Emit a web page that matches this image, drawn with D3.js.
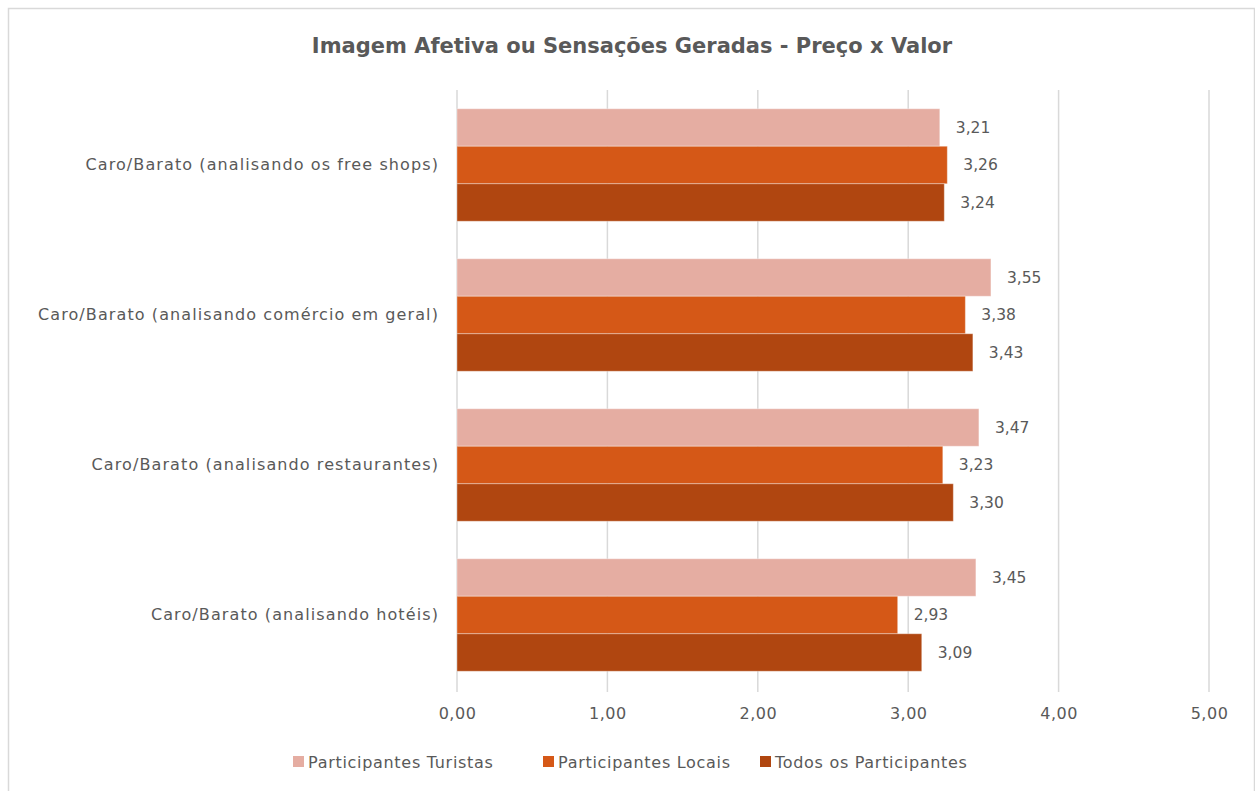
<!DOCTYPE html>
<html>
<head>
<meta charset="utf-8">
<script src="https://cdn.jsdelivr.net/npm/d3@7"></script>
<style>
  html, body { margin: 0; padding: 0; background: #fff; }
  svg { display: block; }
  text { font-family: "Century Gothic", "DejaVu Sans", sans-serif; fill: #595959; }
</style>
</head>
<body>
<script>
// Categories (top to bottom) and series values
const categories = [
  "Caro/Barato (analisando os free shops)",
  "Caro/Barato (analisando comércio em geral)",
  "Caro/Barato (analisando restaurantes)",
  "Caro/Barato (analisando hotéis)"
];
const seriesNames = ["Participantes Turistas", "Participantes Locais", "Todos os Participantes"];
const turistas = [3.21, 3.55, 3.47, 3.45];
const locais   = [3.26, 3.38, 3.23, 2.93];
const todos    = [3.24, 3.43, 3.30, 3.09];
const tickValues = [0, 1, 2, 3, 4, 5];
const colors = ["#e5ada2", "#d55817", "#b04610"];

const title = "Imagem Afetiva ou Sensações Geradas - Preço x Valor";
const W = 1255, H = 791;
const plot = { left: 457, right: 1209, top: 90, bottom: 690 };
const FONT = "\"Century Gothic\", \"DejaVu Sans\", sans-serif";

const svg = d3.select("body").append("svg").attr("width", W).attr("height", H);

// chart frame
svg.append("rect")
  .attr("x", 8.5).attr("y", 8.5).attr("width", W - 9).attr("height", H)
  .attr("fill", "#fff").attr("stroke", "#d9d9d9").attr("stroke-width", 1.5);

const x = d3.scaleLinear().domain([0, 5]).range([plot.left, plot.right]);
const y = d3.scaleBand().domain(categories).range([plot.top, plot.bottom])
  .paddingInner(0.25).paddingOuter(0.125);
const ySub = d3.scaleBand().domain(seriesNames).range([0, y.bandwidth()]);

const fmt = v => d3.format(".2f")(v).replace(".", ",");

// vertical gridlines
svg.append("g").selectAll("line").data(tickValues).join("line")
  .attr("x1", d => x(d)).attr("x2", d => x(d))
  .attr("y1", plot.top).attr("y2", plot.bottom + 2)
  .attr("stroke", "#d9d9d9").attr("stroke-width", 1.5);

// x axis tick labels
const xAxis = d3.axisBottom(x).tickValues(tickValues).tickSize(0).tickFormat(fmt);
const gx = svg.append("g").attr("transform", `translate(0,${plot.bottom + 15})`).call(xAxis);
gx.select(".domain").remove();
gx.selectAll("text").attr("font-size", 16).attr("letter-spacing", 0.5)
  .style("fill", "#595959").style("font-family", FONT);

// category labels
const yAxis = d3.axisLeft(y).tickSize(0).tickPadding(18);
const gy = svg.append("g").attr("transform", `translate(${plot.left},0)`).call(yAxis);
gy.select(".domain").remove();
gy.selectAll("text").attr("font-size", 16).attr("letter-spacing", 1.1)
  .style("fill", "#595959").style("font-family", FONT);

// bars
const rows = categories.map((c, i) => ({
  cat: c,
  vals: [turistas[i], locais[i], todos[i]]
}));
const groups = svg.append("g").selectAll("g").data(rows).join("g")
  .attr("transform", d => `translate(0,${y(d.cat)})`);

groups.selectAll("rect").data(d => d.vals.map((v, k) => ({ v, k }))).join("rect")
  .attr("x", x(0))
  .attr("y", d => ySub(seriesNames[d.k]))
  .attr("width", d => x(d.v) - x(0))
  .attr("height", ySub.bandwidth())
  .attr("fill", d => colors[d.k])
  .attr("stroke", "#fff").attr("stroke-opacity", 0.35).attr("stroke-width", 1);

groups.selectAll("text").data(d => d.vals.map((v, k) => ({ v, k }))).join("text")
  .attr("x", d => x(d.v) + 16)
  .attr("y", d => ySub(seriesNames[d.k]) + ySub.bandwidth() / 2)
  .attr("dy", "0.35em")
  .attr("font-size", 15.5)
  .text(d => fmt(d.v));

// title
svg.append("text")
  .attr("x", 632).attr("y", 53)
  .attr("text-anchor", "middle")
  .attr("font-size", 21).attr("font-weight", "bold")
  .text(title);

// legend
const legendX = [293, 543, 760];
const lg = svg.append("g").selectAll("g").data(seriesNames).join("g")
  .attr("transform", (d, i) => `translate(${legendX[i]},762)`);
lg.append("rect").attr("x", 0).attr("y", -6).attr("width", 11).attr("height", 11)
  .attr("fill", (d, i) => colors[i]);
lg.append("text").attr("x", 15).attr("dy", "0.35em").attr("font-size", 16)
  .attr("letter-spacing", 0.7).text(d => d);
</script>
</body>
</html>
